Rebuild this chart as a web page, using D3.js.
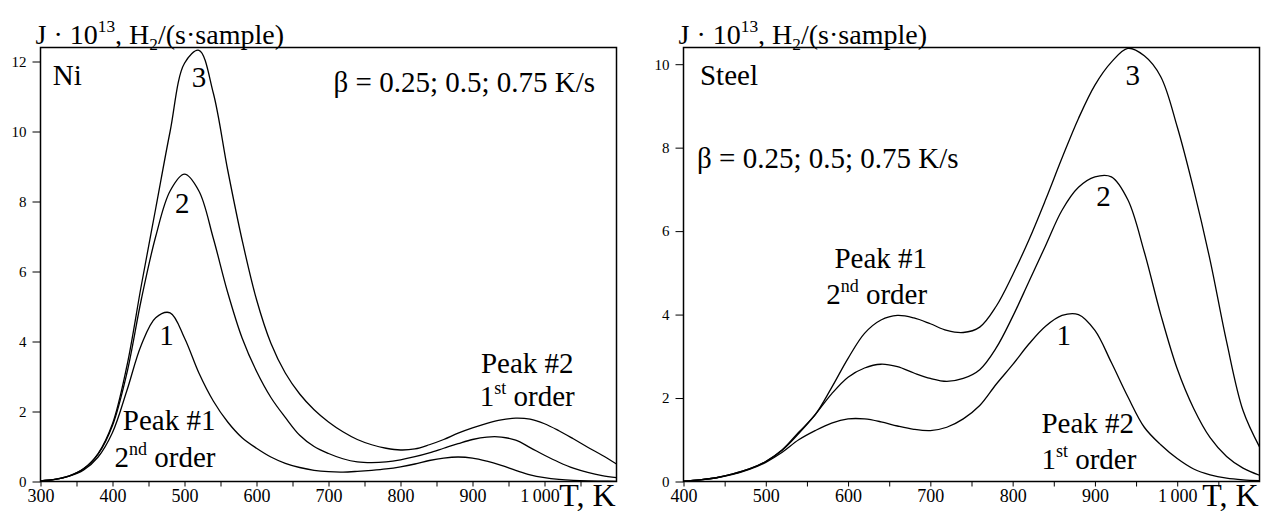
<!DOCTYPE html>
<html>
<head>
<meta charset="utf-8">
<script src="https://cdn.jsdelivr.net/npm/d3@7"></script>
<style>
  body { margin: 0; background: #fff; }
  svg { display: block; }
</style>
</head>
<body>
<svg id="chart" width="1261" height="511"></svg>
<script>
// ---- Ni: desorption flux J·10^13 vs temperature, three heating rates ----
const niT  = [300,320,340,360,380,400,420,440,460,480,500,520,540,560,580,600,620,640,660,680,700,
              720,740,760,780,800,820,840,860,880,900,920,940,960,980,1000,1020,1040,1060,1080,1100];
const niJ1 = [0.02,0.06,0.15,0.33,0.7,1.4,2.6,3.9,4.68,4.82,4.1,3.1,2.3,1.7,1.25,0.95,0.7,0.52,0.4,0.32,0.28,
              0.27,0.29,0.32,0.36,0.42,0.5,0.6,0.67,0.7,0.67,0.58,0.46,0.32,0.19,0.11,0.06,0.03,0.015,0.01,0.005];
const niJ2 = [0.02,0.06,0.16,0.36,0.78,1.6,3.1,5.2,7.0,8.3,8.78,8.3,6.95,5.4,4.1,3.15,2.4,1.83,1.32,1.0,0.8,
              0.65,0.56,0.54,0.56,0.62,0.71,0.82,0.95,1.08,1.2,1.27,1.27,1.18,0.97,0.75,0.55,0.38,0.26,0.17,0.11];
const niJ3 = [0.02,0.06,0.16,0.37,0.8,1.65,3.3,5.6,7.8,10.0,11.95,12.32,11.1,8.9,6.9,5.2,3.95,3.1,2.5,2.05,1.7,
              1.42,1.2,1.05,0.95,0.9,0.93,1.05,1.2,1.38,1.53,1.66,1.76,1.81,1.78,1.65,1.45,1.22,0.98,0.75,0.5];

// ---- Steel ----
const stT  = [400,420,440,460,480,500,520,540,560,580,600,620,640,660,680,700,720,740,760,780,800,
              820,840,860,880,900,920,940,960,980,1000,1020,1040,1060,1080,1100];
const stJ1 = [0.01,0.04,0.09,0.17,0.29,0.46,0.7,1.0,1.22,1.4,1.5,1.5,1.43,1.33,1.25,1.22,1.3,1.5,1.82,2.33,2.8,
              3.3,3.72,3.98,4.0,3.62,2.85,2.03,1.3,0.88,0.55,0.3,0.16,0.08,0.04,0.02];
const stJ2 = [0.01,0.04,0.09,0.18,0.3,0.48,0.75,1.15,1.6,2.1,2.5,2.72,2.81,2.75,2.6,2.47,2.4,2.47,2.68,3.2,3.95,
              4.8,5.65,6.5,7.05,7.3,7.3,6.75,5.5,4.0,2.7,1.75,1.05,0.6,0.32,0.15];
const stJ3 = [0.01,0.04,0.09,0.18,0.3,0.48,0.76,1.18,1.6,2.25,2.95,3.55,3.87,3.98,3.92,3.78,3.62,3.57,3.7,4.2,4.95,
              5.8,6.75,7.75,8.7,9.5,10.05,10.38,10.2,9.7,8.5,7.0,5.3,3.35,1.7,0.83];

// ---- axes ticks ----
const niXMajor = [300,400,500,600,700,800,900,1000];
const niXMinor = [350,450,550,650,750,850,950,1050];
const niYTicks = [0,2,4,6,8,10,12];
const stXMajor = [400,500,600,700,800,900,1000];
const stXMinor = [450,550,650,750,850,950,1050];
const stYTicks = [0,2,4,6,8,10];

const yTitle = [{t:"J · 10"},{t:"13",sup:true},{t:", H"},{t:"2",sub:true},{t:"/(s·sample)"}];
const xTitle = [{t:"T, K"}];
const betaText = [{t:"β = 0.25; 0.5; 0.75 K/s"}];

// labels placed in data coordinates [T, J]
const niLabels = [
  {seg:[{t:"Ni"}], T:317, J:11.33, anchor:"start"},
  {seg:betaText, T:707, J:11.14, anchor:"start"},
  {seg:[{t:"3"}], T:520, J:11.28, anchor:"middle"},
  {seg:[{t:"2"}], T:497, J:7.66, anchor:"middle"},
  {seg:[{t:"1"}], T:475, J:3.9, anchor:"middle"},
  {seg:[{t:"Peak #1"}], T:543, J:1.47, anchor:"end"},
  {seg:[{t:"2"},{t:"nd",sup:true},{t:" order"}], T:543, J:0.42, anchor:"end"},
  {seg:[{t:"Peak #2"}], T:976, J:3.1, anchor:"middle"},
  {seg:[{t:"1"},{t:"st",sup:true},{t:" order"}], T:976, J:2.16, anchor:"middle"}
];
const stLabels = [
  {seg:[{t:"Steel"}], T:420, J:9.51, anchor:"start"},
  {seg:betaText, T:416.5, J:7.52, anchor:"start"},
  {seg:[{t:"3"}], T:946, J:9.51, anchor:"middle"},
  {seg:[{t:"2"}], T:910.5, J:6.59, anchor:"middle"},
  {seg:[{t:"1"}], T:862, J:3.28, anchor:"middle"},
  {seg:[{t:"Peak #1"}], T:696, J:5.12, anchor:"end"},
  {seg:[{t:"2"},{t:"nd",sup:true},{t:" order"}], T:696, J:4.26, anchor:"end"},
  {seg:[{t:"Peak #2"}], T:835, J:1.16, anchor:"start"},
  {seg:[{t:"1"},{t:"st",sup:true},{t:" order"}], T:835, J:0.3, anchor:"start"}
];

const SERIF = "'Liberation Serif', 'Times New Roman', serif";
const svg = d3.select("#chart");
const LABEL_SIZE = 29;

function richText(g, x, y, segs, anchor, size) {
  const txt = g.append("text").attr("x", x).attr("y", y)
    .attr("text-anchor", anchor)
    .style("font-family", SERIF).style("font-size", size + "px")
    .style("fill", "#000").style("white-space", "pre");
  let shift = 0;
  segs.forEach(s => {
    const sp = txt.append("tspan").text(s.t);
    let target = 0;
    if (s.sup) { target = -0.42 * size; sp.style("font-size", (size * 0.62) + "px"); }
    else if (s.sub) { target = 0.22 * size; sp.style("font-size", (size * 0.62) + "px"); }
    if (target !== shift) { sp.attr("dy", target - shift); shift = target; }
  });
  return txt;
}

// thousands separated by a thin space
function fmtX(d) { return d >= 1000 ? "1\u2009000" : String(d); }

function panel(cfg) {
  const x = d3.scaleLinear().domain(cfg.xDomain).range(cfg.xRange);
  const y = d3.scaleLinear().domain(cfg.yDomain).range(cfg.yRange);
  const g = svg.append("g");
  const [x0, x1] = x.range();
  const [yb, yt] = y.range();

  // x axis: major ticks with labels, minor ticks without
  const gx = g.append("g").attr("transform", `translate(0,${yb})`)
    .call(d3.axisBottom(x).tickValues(cfg.xMajor).tickFormat(fmtX).tickSize(5).tickPadding(3));
  gx.append("g").call(d3.axisBottom(x).tickValues(cfg.xMinor).tickFormat("").tickSize(5));
  gx.selectAll(".domain").remove();
  gx.selectAll("text").style("font-family", SERIF).style("font-size", "18px")
    .style("fill", "#000").style("white-space", "pre")
    .attr("dx", d => d >= 1000 ? cfg.lastTickDx : 0);
  gx.selectAll("line").attr("stroke", "#000");

  // y axis
  const gy = g.append("g").attr("transform", `translate(${x0},0)`)
    .call(d3.axisLeft(y).tickValues(cfg.yTicks).tickFormat(d3.format("d")).tickSize(8).tickPadding(6));
  gy.selectAll(".domain").remove();
  gy.selectAll("text").style("font-family", SERIF).style("font-size", "15px").style("fill", "#000");
  gy.selectAll("line").attr("stroke", "#000");

  // curves
  const line = d3.line().x((d, i) => x(cfg.T[i])).y(d => y(d)).curve(d3.curveCatmullRom.alpha(0.5));
  g.selectAll("path.curve").data(cfg.series).join("path")
    .attr("class", "curve").attr("d", line)
    .attr("fill", "none").attr("stroke", "#000").attr("stroke-width", 1.3);

  // frame
  g.append("rect").attr("x", x0).attr("y", yt).attr("width", x1 - x0).attr("height", yb - yt)
    .attr("fill", "none").attr("stroke", "#000").attr("stroke-width", 1.5);

  // annotations
  cfg.labels.forEach(l => richText(g, x(l.T), y(l.J), l.seg, l.anchor, LABEL_SIZE));

  // axis titles
  richText(g, x0 - 5, yt - 4, yTitle, "start", 28);
  richText(g, x1 - 1, yb + 24, xTitle, "end", 32);
}

panel({
  T: niT, series: [niJ1, niJ2, niJ3],
  xDomain: [300, 1100], xRange: [40.5, 616.5],
  yDomain: [0, 12.4], yRange: [481.5, 47.5],
  xMajor: niXMajor, xMinor: niXMinor, yTicks: niYTicks, labels: niLabels, lastTickDx: -5
});
panel({
  T: stT, series: [stJ1, stJ2, stJ3],
  xDomain: [400, 1100], xRange: [683.5, 1259.5],
  yDomain: [0, 10.4], yRange: [481.5, 47.5],
  xMajor: stXMajor, xMinor: stXMinor, yTicks: stYTicks, labels: stLabels, lastTickDx: 0
});
</script>
</body>
</html>
